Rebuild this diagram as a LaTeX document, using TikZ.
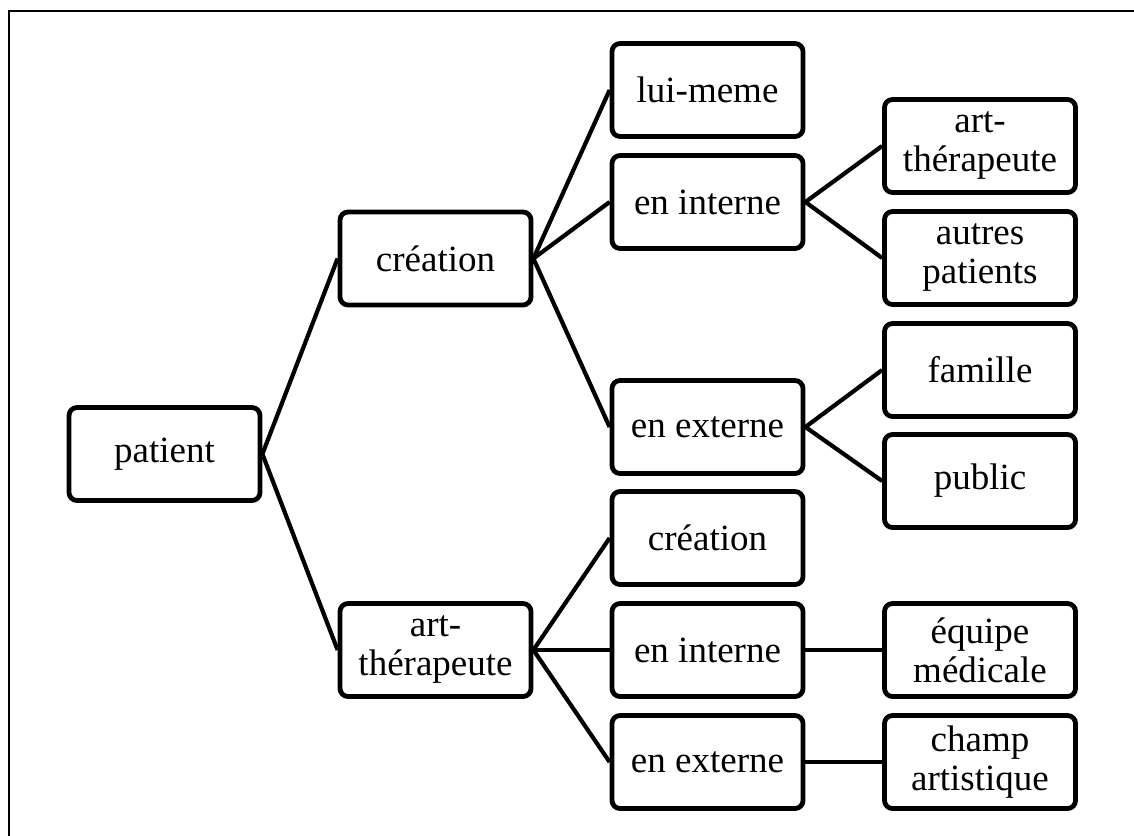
\documentclass[tikz,border=0pt]{standalone}
\usepackage{fontspec}
\setmainfont{Liberation Serif}
\begin{document}
\begin{tikzpicture}[x=1pt,y=-1pt,
  box/.style={draw=black, line width=4.8pt, rounded corners=8pt, fill=white,
    minimum width=191pt, minimum height=93pt, inner sep=0pt, align=center,
    font=\fontsize{37}{39}\selectfont},
  link/.style={draw=black, line width=4.2pt},
  frame/.style={draw=black, line width=2.6pt}]
\useasboundingbox (0,0) rectangle (1134,835);
\draw[frame] (1140,11) -- (9,11) -- (9,840);
% level 0
\node[box] (pat) at (164.5,454) {patient};
% level 1
\node[box] (cre) at (435.5,258.5) {création};
\node[box] (art) at (435.5,650) {art-\\thérapeute};
% level 2
\node[box] (lui) at (707.5,90) {lui-meme};
\node[box] (ci) at (707.5,202) {en interne};
\node[box] (ce) at (707.5,427) {en externe};
\node[box] (ac) at (707.5,538) {création};
\node[box] (ai) at (707.5,650) {en interne};
\node[box] (ae) at (707.5,762) {en externe};
% level 3
\node[box] (cia) at (980,146) {art-\\thérapeute};
\node[box] (cip) at (980,258) {autres\\patients};
\node[box] (cef) at (980,370) {famille};
\node[box] (cep) at (980,481) {public};
\node[box] (aie) at (980,650) {équipe\\médicale};
\node[box] (aec) at (980,762) {champ\\artistique};
% connectors
\begin{scope}[on background layer/.style={}]
\draw[link] (pat.east) -- (cre.west);
\draw[link] (pat.east) -- (art.west);
\draw[link] (cre.east) -- (lui.west);
\draw[link] (cre.east) -- (ci.west);
\draw[link] (cre.east) -- (ce.west);
\draw[link] (art.east) -- (ac.west);
\draw[link] (art.east) -- (ai.west);
\draw[link] (art.east) -- (ae.west);
\draw[link] (ci.east) -- (cia.west);
\draw[link] (ci.east) -- (cip.west);
\draw[link] (ce.east) -- (cef.west);
\draw[link] (ce.east) -- (cep.west);
\draw[link] (ai.east) -- (aie.west);
\draw[link] (ae.east) -- (aec.west);
\end{scope}
\end{tikzpicture}
\end{document}
